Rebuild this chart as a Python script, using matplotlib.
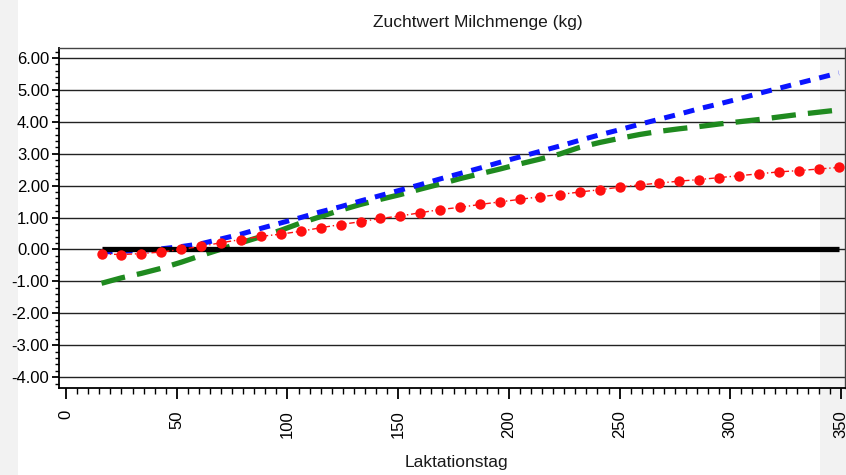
import matplotlib
matplotlib.use('agg')
import matplotlib.pyplot as plt
from matplotlib.patches import Rectangle
from matplotlib.ticker import MultipleLocator, FormatStrFormatter

plt.rcParams['font.family'] = ['Liberation Sans', 'DejaVu Sans']

title = "Zuchtwert Milchmenge (kg)"
xlabel = "Laktationstag"

# days (every 9th day from 16)
tage = [16, 25, 34, 43, 52, 61, 70, 79, 88, 97, 106, 115, 124, 133, 142, 151, 160, 169, 178,
        187, 196, 205, 214, 223, 232, 241, 250, 259, 268, 277, 286, 295, 304, 313, 322, 331, 340, 349]

basis = [0.0] * len(tage)

rot = [-0.14, -0.16, -0.13, -0.08, 0.00, 0.10, 0.21, 0.31, 0.41, 0.48, 0.57, 0.68, 0.78, 0.87,
       0.97, 1.05, 1.15, 1.25, 1.32, 1.41, 1.49, 1.57, 1.65, 1.72, 1.80, 1.87, 1.95, 2.02, 2.08,
       2.14, 2.19, 2.25, 2.31, 2.37, 2.43, 2.47, 2.52, 2.57]

blau = [-0.08, -0.06, -0.03, 0.02, 0.09, 0.18, 0.33, 0.48, 0.66, 0.83, 1.00, 1.18, 1.34, 1.52,
        1.69, 1.86, 2.03, 2.21, 2.38, 2.55, 2.73, 2.90, 3.07, 3.24, 3.42, 3.59, 3.75, 3.92, 4.08,
        4.24, 4.41, 4.56, 4.72, 4.89, 5.05, 5.21, 5.37, 5.53]

gruen = [-1.06, -0.89, -0.75, -0.59, -0.40, -0.19, 0.01, 0.21, 0.40, 0.60, 0.83, 1.03, 1.23, 1.41,
         1.57, 1.72, 1.89, 2.05, 2.22, 2.37, 2.52, 2.68, 2.83, 2.99, 3.20, 3.35, 3.48, 3.60, 3.70,
         3.78, 3.85, 3.93, 4.00, 4.07, 4.15, 4.23, 4.30, 4.37]

fig = plt.figure(figsize=(8.46, 4.75), dpi=100)
fig.patch.set_facecolor('white')
# grey page strips from the screenshot
fig.patches.append(Rectangle((0, 0), 18 / 846, 1, transform=fig.transFigure,
                             facecolor='#f2f2f2', edgecolor='none', zorder=-1))
fig.patches.append(Rectangle((820 / 846, 0), 26 / 846, 1, transform=fig.transFigure,
                             facecolor='#f2f2f2', edgecolor='none', zorder=-1))

ax = fig.add_axes([59 / 846, 1 - 388 / 475, 786 / 846, 340 / 475])
ax.patch.set_facecolor('none')

ax.plot(tage, gruen, color='#1f8a1f', lw=3.8, linestyle=(0, (4.6, 2.3)), zorder=3)
ax.plot(tage, blau, color='#0a14ff', lw=3.6, linestyle=(0, (2.2, 1.8)), zorder=4)
ax.plot(tage, basis, color='black', lw=3.8, solid_capstyle='butt', zorder=5)
ax.plot(tage, rot, color='#ff1010', lw=1.0, linestyle=(0, (4, 2, 1, 2)),
        marker='o', markersize=7.5, markeredgewidth=0, zorder=6)

ax.set_xlim(-3.2, 351.8)
ax.set_ylim(-4.34, 6.31)

ax.xaxis.set_major_locator(MultipleLocator(50))
ax.xaxis.set_minor_locator(MultipleLocator(5))
ax.yaxis.set_major_locator(MultipleLocator(1))
ax.yaxis.set_minor_locator(MultipleLocator(0.2))
ax.yaxis.set_major_formatter(FormatStrFormatter('%.2f'))

ax.grid(True, which='major', axis='y', color='#222222', lw=1.0, zorder=1)
ax.set_axisbelow(True)

ax.tick_params(axis='x', which='major', length=8, width=1.3, direction='out', labelsize=12,
               labelrotation=90, pad=8)
ax.tick_params(axis='x', which='minor', length=4, width=1.0, direction='out')
ax.tick_params(axis='y', which='major', length=5, width=1.3, direction='out', labelsize=12, pad=2)
ax.tick_params(axis='y', which='minor', length=3, width=1.0, direction='out')

for s in ['left', 'bottom']:
    ax.spines[s].set_color('black')
    ax.spines[s].set_linewidth(1.3)
for s in ['top', 'right']:
    ax.spines[s].set_color('#444444')
    ax.spines[s].set_linewidth(1.0)

fig.text(478 / 846, 1 - 22 / 475, title, ha='center', va='center', fontsize=12.5, color='#1a1a1a')
fig.text(456 / 846, 1 - 463 / 475, xlabel, ha='center', va='center', fontsize=12.5, color='#1a1a1a')

fig.savefig('out.png', dpi=100)
